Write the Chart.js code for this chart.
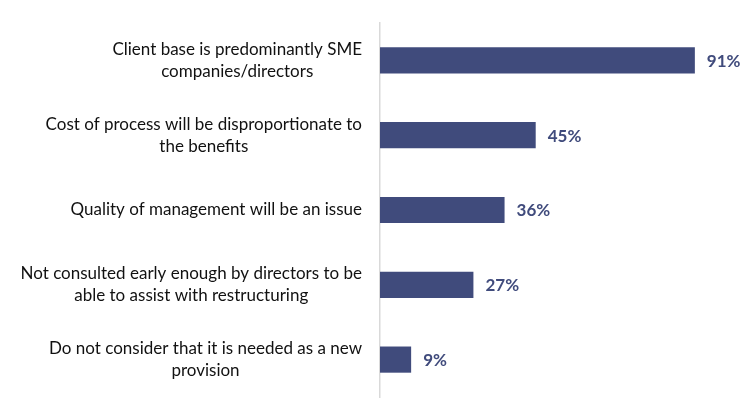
<!DOCTYPE html>
<html>
<head>
<meta charset="utf-8">
<script src="https://cdn.jsdelivr.net/npm/chart.js@4.4.1/dist/chart.umd.min.js"></script>
<style>
  body { margin: 0; background: #ffffff; }
  #wrap { width: 750px; height: 420px; }
</style>
</head>
<body>
<div id="wrap"><canvas id="barChart" width="750" height="420"></canvas></div>
<script>
// Données du graphique
const categories = [
    ["Client base is predominantly SME", "companies/directors"],
    ["Cost of process will be disproportionate to", "the benefits"],
    ["Quality of management will be an issue"],
    ["Not consulted early enough by directors to be", "able to assist with restructuring"],
    ["Do not consider that it is needed as a new", "provision"]
];
const values = [91, 45, 36, 27, 9];

const BAR_COLOR = '#404b7c';
const LABEL_FONT = 'Lato, "Open Sans", sans-serif';

// Libellés de catégories : bloc aligné à droite, lignes centrées entre elles
const categoryLabels = {
    id: 'categoryLabels',
    afterDraw(chart) {
        const ctx = chart.ctx;
        const yScale = chart.scales.y;
        const blockRight = chart.chartArea.left - 18;
        ctx.save();
        ctx.font = '17px ' + LABEL_FONT;
        ctx.fillStyle = '#111111';
        ctx.textAlign = 'center';
        ctx.textBaseline = 'middle';
        const lineH = 22;
        categories.forEach((lines, i) => {
            const yc = yScale.getPixelForValue(i);
            const maxW = Math.max(...lines.map(l => ctx.measureText(l).width));
            const xc = blockRight - maxW / 2;
            const y0 = yc - (lines.length - 1) * lineH / 2;
            lines.forEach((l, k) => ctx.fillText(l, xc, y0 + k * lineH));
        });
        ctx.restore();
    }
};

// Valeurs en bout de barre
const valueLabels = {
    id: 'valueLabels',
    afterDatasetsDraw(chart) {
        const ctx = chart.ctx;
        const meta = chart.getDatasetMeta(0);
        ctx.save();
        ctx.font = 'bold 17px ' + LABEL_FONT;
        ctx.fillStyle = BAR_COLOR;
        ctx.textAlign = 'left';
        ctx.textBaseline = 'middle';
        meta.data.forEach((bar, i) => {
            ctx.fillText(values[i] + '%', bar.x + 12, bar.y + 1);
        });
        ctx.restore();
    }
};

new Chart(document.getElementById('barChart'), {
    type: 'bar',
    data: {
        labels: categories.map(c => c.join(' ')),
        datasets: [{
            data: values,
            backgroundColor: BAR_COLOR,
            borderWidth: 0,
            barPercentage: 0.35,
            categoryPercentage: 1.0
        }]
    },
    options: {
        indexAxis: 'y',
        responsive: false,
        animation: false,
        layout: { padding: { left: 380, right: 24, top: 23, bottom: 23 } },
        scales: {
            x: {
                display: false,
                min: 0,
                max: 100
            },
            y: {
                ticks: { display: false },
                grid: { display: false, drawTicks: false },
                border: { display: true, color: '#d9d9d9', width: 1.5 }
            }
        },
        plugins: {
            legend: { display: false },
            tooltip: { enabled: false }
        }
    },
    plugins: [categoryLabels, valueLabels]
});
</script>
</body>
</html>
